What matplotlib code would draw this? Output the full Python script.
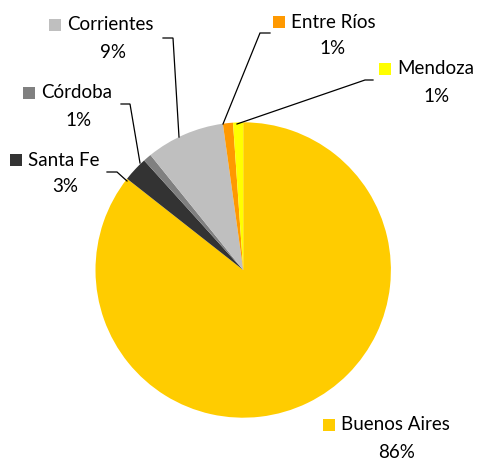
import matplotlib
matplotlib.use("Agg")
import matplotlib.pyplot as plt
from matplotlib.patches import Rectangle

categories = ["Buenos Aires", "Santa Fe", "Córdoba", "Corrientes", "Entre Ríos", "Mendoza"]
values = [85.6, 2.7, 0.9, 8.6, 1.1, 1.1]
colors = ["#FFCC00", "#333333", "#808080", "#BFBFBF", "#FF9900", "#FFFF00"]

W, H = 479, 459
fig = plt.figure(figsize=(W / 100, H / 100), dpi=100)
ax = fig.add_axes([0, 0, 1, 1])

cx, cy, r = 243.2, 270.0, 147.7
ax.pie(values, colors=colors, startangle=90, counterclock=False,
       center=(cx, H - cy), radius=r,
       wedgeprops=dict(linewidth=0, antialiased=True), frame=True)

total = sum(values)
pcts = [f"{round(v / total * 100):d}%" for v in values]

# label layout in pixel coords: (square_x, name_y, pct_center_x, pct_y)
layout = {
    "Buenos Aires": (323, 425, 397, 452),
    "Santa Fe": (10, 160, 65, 187),
    "Córdoba": (23, 93, 79, 120),
    "Corrientes": (49, 25, 113, 52),
    "Entre Ríos": (273, 22, 333, 49),
    "Mendoza": (379, 69, 437, 96),
}
leaders = {
    "Santa Fe": [(107, 172), (117, 172), (127, 181)],
    "Córdoba": [(121, 104), (130, 104), (140, 163)],
    "Corrientes": [(163, 38), (173, 38), (179, 137)],
    "Entre Ríos": [(270, 33), (260, 33), (223, 124)],
    "Mendoza": [(373, 80), (365, 80), (237, 124)],
}

font = ["Lato", "DejaVu Sans"]
fs = 13.5
sq = 12
for name, col, pct in zip(categories, colors, pcts):
    sx, ny, px, py = layout[name]
    ax.add_patch(Rectangle((sx, H - ny - sq / 2), sq, sq, facecolor=col,
                           edgecolor="none"))
    ax.text(sx + sq + 6, H - ny, name, ha="left", va="center",
            fontsize=fs, family=font, color="black")
    ax.text(px, H - py, pct, ha="center", va="center",
            fontsize=fs, family=font, color="black")
    if name in leaders:
        pts = leaders[name]
        ax.plot([p[0] for p in pts], [H - p[1] for p in pts],
                color="black", linewidth=0.9, solid_joinstyle="miter")

ax.set_xlim(0, W)
ax.set_ylim(0, H)
ax.set_aspect("equal")
ax.axis("off")
fig.savefig("out.png", dpi=100)
